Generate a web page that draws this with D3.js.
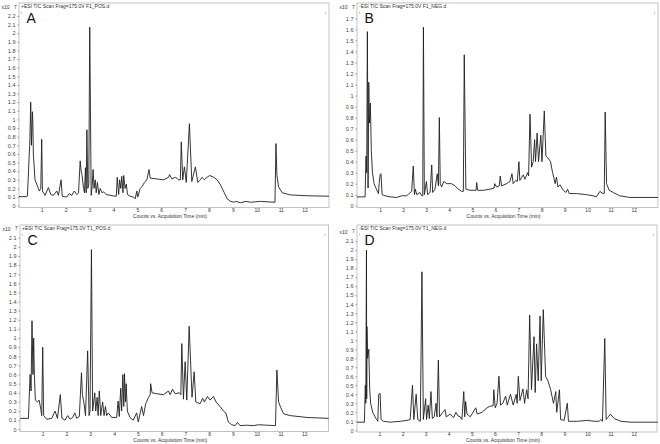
<!DOCTYPE html>
<meta charset="utf-8">
<style>
    body {
        margin: 0;
        background: #fff;
        font-family: "Liberation Sans", Arial, sans-serif;
    }

    .box {
        fill: none;
        stroke: #b4b4b4;
        stroke-width: 0.8px;
    }

    .trace {
        fill: none;
        stroke: #1e1e1e;
        stroke-width: 0.9px;
        stroke-linejoin: round;
    }

    .tick-label {
        font-size: 5.5px;
        fill: #444;
    }

    .small-label {
        font-size: 5px;
        fill: #333;
    }
</style>

<body>
    <script src="https://cdn.jsdelivr.net/npm/d3@7"></script>

    <script>

        // retention time (min) and TIC counts (x10^7)
        var timeA = [0.05, 0.37, 0.40, 0.44, 0.48, 0.50, 0.54, 0.57, 0.61, 0.63, 0.65, 0.72, 0.86, 0.90, 0.96, 1.00, 1.03, 1.14, 1.28, 1.38,
            1.49, 1.63, 1.70, 1.81, 1.86, 2.05, 2.15, 2.26, 2.36, 2.47, 2.54, 2.61, 2.65, 2.69, 2.75, 2.79, 2.83, 2.86, 2.89, 2.93,
            2.97, 3.01, 3.07, 3.11, 3.15, 3.19, 3.24, 3.28, 3.33, 3.39, 3.45, 3.52, 3.59, 3.70, 3.87, 4.07, 4.12, 4.16, 4.22, 4.26,
            4.31, 4.35, 4.40, 4.43, 4.49, 4.54, 4.59, 4.70, 4.84, 4.91, 4.98, 5.02, 5.12, 5.19, 5.30, 5.40, 5.49, 5.54, 5.82, 6.10,
            6.31, 6.35, 6.45, 6.59, 6.73, 6.80, 6.84, 6.90, 6.97, 7.05, 7.18, 7.28, 7.43, 7.53, 7.64, 7.71, 7.81, 7.92, 8.03, 8.20,
            8.34, 8.48, 8.64, 8.76, 8.90, 9.04, 9.11, 9.32, 9.55, 9.74, 9.94, 10.15, 10.43, 10.76, 10.80, 10.84, 10.91, 11.06, 11.41, 12.11,
            13.02];
        var countsA = [0.105, 0.105, 0.11, 0.34, 0.61, 0.70, 1.20, 0.70, 1.09, 0.95, 0.60, 0.30, 0.20, 0.17, 0.20, 0.77, 0.17, 0.12, 0.21, 0.13,
            0.12, 0.17, 0.12, 0.30, 0.11, 0.10, 0.14, 0.12, 0.17, 0.13, 0.15, 0.52, 0.40, 0.35, 0.20, 0.15, 0.44, 0.15, 0.88, 0.20,
            0.25, 2.07, 0.12, 0.22, 0.42, 0.20, 0.30, 0.15, 0.27, 0.13, 0.20, 0.15, 0.16, 0.13, 0.12, 0.11, 0.11, 0.33, 0.13, 0.30,
            0.20, 0.34, 0.15, 0.35, 0.20, 0.25, 0.13, 0.11, 0.10, 0.08, 0.17, 0.10, 0.20, 0.22, 0.27, 0.30, 0.42, 0.32, 0.31, 0.30,
            0.33, 0.36, 0.31, 0.33, 0.30, 0.30, 0.74, 0.30, 0.45, 0.27, 0.95, 0.28, 0.45, 0.27, 0.30, 0.33, 0.30, 0.33, 0.35, 0.33,
            0.30, 0.24, 0.15, 0.08, 0.05, 0.04, 0.05, 0.035, 0.05, 0.04, 0.045, 0.05, 0.045, 0.04, 0.72, 0.35, 0.22, 0.15, 0.125, 0.115,
            0.11];

        var timeB = [0.00, 0.35, 0.39, 0.42, 0.45, 0.48, 0.51, 0.54, 0.58, 0.62, 0.67, 0.74, 0.86, 0.93, 0.96, 1.00, 1.04, 1.09, 1.22, 1.43,
            1.72, 1.94, 2.15, 2.37, 2.44, 2.49, 2.53, 2.59, 2.73, 2.80, 2.85, 2.88, 2.92, 3.01, 3.06, 3.17, 3.24, 3.28, 3.38, 3.48,
            3.53, 3.57, 3.61, 3.67, 3.76, 3.89, 4.10, 4.25, 4.39, 4.54, 4.61, 4.65, 4.72, 4.90, 5.16, 5.19, 5.23, 5.48, 5.76, 5.94,
            5.97, 6.05, 6.17, 6.21, 6.27, 6.49, 6.63, 6.72, 6.77, 6.89, 6.95, 7.02, 7.06, 7.21, 7.28, 7.40, 7.44, 7.50, 7.57, 7.64,
            7.70, 7.74, 7.81, 7.87, 7.97, 8.02, 8.12, 8.19, 8.29, 8.39, 8.48, 8.54, 8.59, 8.65, 8.71, 8.80, 8.94, 9.06, 9.13, 9.20,
            9.52, 9.95, 10.24, 10.38, 10.53, 10.67, 10.72, 10.76, 10.82, 10.93, 11.11, 11.39, 11.83, 13.05];
        var countsB = [0.08, 0.08, 0.45, 0.30, 1.58, 0.16, 1.12, 0.75, 0.93, 0.50, 0.30, 0.20, 0.14, 0.11, 0.20, 0.28, 0.29, 0.10, 0.09, 0.08,
            0.075, 0.09, 0.09, 0.13, 0.36, 0.10, 0.15, 0.10, 0.12, 0.09, 0.09, 1.62, 0.10, 0.22, 0.10, 0.12, 0.37, 0.12, 0.15, 0.29,
            0.18, 0.80, 0.20, 0.17, 0.22, 0.20, 0.20, 0.18, 0.15, 0.13, 0.13, 1.37, 0.15, 0.14, 0.14, 0.21, 0.14, 0.14, 0.15, 0.16,
            0.20, 0.17, 0.18, 0.27, 0.18, 0.20, 0.22, 0.29, 0.20, 0.23, 0.22, 0.40, 0.23, 0.28, 0.24, 0.30, 0.27, 0.83, 0.35, 0.40,
            0.60, 0.40, 0.66, 0.40, 0.64, 0.40, 0.86, 0.45, 0.43, 0.40, 0.30, 0.25, 0.20, 0.26, 0.17, 0.19, 0.14, 0.12, 0.15, 0.11,
            0.11, 0.10, 0.09, 0.08, 0.13, 0.11, 0.11, 0.85, 0.20, 0.14, 0.12, 0.09, 0.075, 0.075];

        var timeC = [0.05, 0.40, 0.47, 0.51, 0.55, 0.59, 0.62, 0.65, 0.69, 0.78, 0.85, 0.92, 0.96, 1.00, 1.04, 1.17, 1.38, 1.52, 1.62, 1.74,
            1.81, 1.94, 2.05, 2.15, 2.26, 2.35, 2.43, 2.54, 2.63, 2.67, 2.74, 2.80, 2.89, 2.95, 2.99, 3.05, 3.10, 3.19, 3.23, 3.29,
            3.33, 3.38, 3.44, 3.52, 3.58, 3.64, 3.69, 3.76, 3.90, 4.11, 4.17, 4.22, 4.28, 4.32, 4.37, 4.41, 4.44, 4.48, 4.51, 4.56,
            4.67, 4.81, 4.95, 5.02, 5.16, 5.24, 5.33, 5.45, 5.52, 5.54, 5.60, 5.80, 6.08, 6.29, 6.36, 6.46, 6.57, 6.75, 6.81, 6.85,
            6.92, 6.99, 7.06, 7.16, 7.28, 7.37, 7.44, 7.62, 7.73, 7.80, 7.93, 8.04, 8.18, 8.29, 8.46, 8.60, 8.70, 8.81, 8.95, 9.09,
            9.19, 9.30, 9.58, 9.86, 10.07, 10.42, 10.79, 10.85, 10.92, 11.01, 11.13, 11.41, 12.11, 13.02];
        var countsC = [0.12, 0.12, 0.60, 0.42, 1.19, 0.60, 1.00, 0.60, 0.32, 0.30, 0.32, 0.22, 0.15, 0.90, 0.15, 0.11, 0.12, 0.20, 0.12, 0.38,
            0.12, 0.10, 0.15, 0.11, 0.13, 0.18, 0.12, 0.14, 0.62, 0.38, 0.28, 0.15, 0.86, 0.15, 0.20, 1.97, 0.20, 0.40, 0.20, 0.35,
            0.15, 0.42, 0.15, 0.30, 0.15, 0.25, 0.15, 0.18, 0.13, 0.13, 0.31, 0.14, 0.45, 0.20, 0.60, 0.25, 0.61, 0.30, 0.50, 0.20,
            0.13, 0.10, 0.18, 0.08, 0.25, 0.15, 0.28, 0.35, 0.38, 0.50, 0.40, 0.39, 0.38, 0.42, 0.38, 0.44, 0.39, 0.40, 0.38, 0.94,
            0.33, 0.74, 0.32, 1.13, 0.35, 0.63, 0.30, 0.28, 0.34, 0.30, 0.36, 0.32, 0.36, 0.30, 0.25, 0.20, 0.18, 0.08, 0.05, 0.04,
            0.075, 0.04, 0.045, 0.04, 0.05, 0.045, 0.04, 0.65, 0.30, 0.24, 0.17, 0.15, 0.13, 0.12];

        var timeD = [0.03, 0.35, 0.39, 0.41, 0.44, 0.45, 0.46, 0.49, 0.54, 0.58, 0.62, 0.71, 0.81, 0.88, 0.93, 0.97, 1.03, 1.07, 1.17, 1.46,
            1.90, 2.19, 2.33, 2.43, 2.49, 2.59, 2.66, 2.77, 2.84, 2.90, 3.00, 3.04, 3.11, 3.16, 3.23, 3.29, 3.37, 3.45, 3.49, 3.55,
            3.60, 3.74, 3.84, 3.89, 4.07, 4.21, 4.31, 4.40, 4.50, 4.57, 4.65, 4.69, 4.73, 4.79, 4.93, 5.17, 5.23, 5.44, 5.66, 5.80,
            5.92, 5.95, 6.01, 6.09, 6.17, 6.24, 6.34, 6.46, 6.53, 6.67, 6.79, 6.92, 6.96, 7.01, 7.08, 7.21, 7.28, 7.37, 7.43, 7.50,
            7.58, 7.69, 7.74, 7.80, 7.87, 7.95, 8.00, 8.09, 8.19, 8.29, 8.41, 8.53, 8.63, 8.67, 8.79, 8.84, 8.99, 9.13, 9.18, 9.57,
            10.00, 10.29, 10.51, 10.58, 10.65, 10.75, 10.81, 10.91, 10.99, 11.16, 11.45, 11.88, 13.04];
        var countsD = [0.09, 0.09, 0.50, 0.30, 2.00, 0.35, 1.15, 0.80, 0.90, 0.45, 0.30, 0.20, 0.15, 0.12, 0.10, 0.40, 0.41, 0.12, 0.10, 0.09,
            0.10, 0.11, 0.12, 0.50, 0.12, 0.40, 0.12, 0.10, 1.76, 0.12, 0.35, 0.12, 0.28, 0.13, 0.43, 0.13, 0.15, 0.30, 0.15, 0.78,
            0.15, 0.20, 0.23, 0.15, 0.18, 0.14, 0.20, 0.16, 0.15, 0.12, 0.43, 0.15, 0.32, 0.18, 0.15, 0.25, 0.18, 0.20, 0.25, 0.27,
            0.27, 0.45, 0.25, 0.30, 0.60, 0.28, 0.30, 0.38, 0.28, 0.40, 0.28, 0.40, 0.30, 0.60, 0.33, 0.46, 0.30, 0.45, 0.35, 1.28,
            0.45, 1.04, 0.42, 0.96, 0.55, 1.27, 0.55, 1.34, 0.60, 0.55, 0.45, 0.30, 0.43, 0.20, 0.45, 0.12, 0.11, 0.30, 0.10, 0.10,
            0.11, 0.10, 0.10, 0.12, 0.10, 1.02, 0.12, 0.15, 0.18, 0.13, 0.10, 0.09, 0.09];

        var xTicks = [1, 2, 3, 4, 5, 6, 7, 8, 9, 10, 11, 12];
        var xTitle = "Counts vs. Acquisition Time (min)";

        var panels = [
            { letter: "A", title: "+ESI TIC Scan Frag=175.0V F1_POS.d", time: timeA, counts: countsA, topTick: 2.2 },
            { letter: "B", title: "-ESI TIC Scan Frag=175.0V F1_NEG.d", time: timeB, counts: countsB, topTick: 1.7 },
            { letter: "C", title: "+ESI TIC Scan Frag=175.0V T1_POS.d", time: timeC, counts: countsC, topTick: 2.1 },
            { letter: "D", title: "-ESI TIC Scan Frag=175.0V T1_NEG.d", time: timeD, counts: countsD, topTick: 2.1 }
        ];

        // plot box of each panel: left, top, right, bottom, y of zero, x domain, y value at box top
        var frames = [
            { l: 19, t: 3, r: 329, b: 207.5, zero: 205.7, xd: [0.05, 13.02], ytop: 2.35 },
            { l: 357, t: 3, r: 658, b: 207.5, zero: 205.7, xd: [0.0, 13.05], ytop: 1.84 },
            { l: 20, t: 225, r: 328.5, b: 431.5, zero: 429.3, xd: [0.045, 13.02], ytop: 2.24 },
            { l: 357, t: 225, r: 657, b: 432, zero: 430.3, xd: [0.03, 13.01], ytop: 2.28 }
        ];

        var svg = d3.select("body").append("svg")
            .attr("width", 660)
            .attr("height", 444);

        var fmt = function (d) { return d === 0 ? "0" : String(Math.round(d * 10) / 10); };

        panels.forEach(function (p, i) {
            var f = frames[i];
            var g = svg.append("g");

            var x = d3.scaleLinear().domain(f.xd).range([f.l, f.r]);
            var y = d3.scaleLinear().domain([0, f.ytop]).range([f.zero, f.t]);

            g.append("rect").attr("class", "box")
                .attr("x", f.l).attr("y", f.t)
                .attr("width", f.r - f.l).attr("height", f.b - f.t);

            // y ticks
            var yTicks = d3.range(0, Math.round(p.topTick * 10) + 1).map(function (k) { return k / 10; });
            var yAxis = g.append("g")
                .attr("transform", "translate(" + f.l + ",0)")
                .call(d3.axisLeft(y).tickValues(yTicks).tickFormat(fmt).tickSize(1.5).tickPadding(2));
            yAxis.select(".domain").remove();
            yAxis.selectAll("line").attr("stroke", "#999");
            yAxis.selectAll("text").attr("class", "tick-label").attr("font-family", null).attr("font-size", null);

            // exponent label where the next tick would be
            var ey = y(p.topTick + 0.1) + 2;
            g.append("text").attr("class", "small-label")
                .attr("x", f.l - 17.5).attr("y", ey)
                .text("x10");
            g.append("text").attr("class", "small-label")
                .attr("x", f.l - 5).attr("y", ey - 0.8)
                .attr("font-size", "4px")
                .text("7");

            // x ticks
            var xAxis = g.append("g")
                .attr("transform", "translate(0," + f.b + ")")
                .call(d3.axisBottom(x).tickValues(xTicks).tickFormat(d3.format("d")).tickSize(0).tickPadding(0));
            xAxis.select(".domain").remove();
            xAxis.selectAll("text").attr("class", "small-label").attr("font-family", null).attr("font-size", null)
                .attr("dy", null).attr("y", 4.3);

            g.append("text").attr("class", "small-label")
                .attr("x", (f.l + f.r) / 2 - 4).attr("y", f.b + 10)
                .attr("text-anchor", "middle")
                .text(xTitle);

            // scan title
            g.append("text").attr("class", "small-label")
                .attr("x", f.l + 2).attr("y", f.t + 4.5)
                .text(p.title);

            // small marker bars under the title
            [f.l + 2.5, f.r - 3.5].forEach(function (mx) {
                g.append("line")
                    .attr("x1", mx).attr("x2", mx)
                    .attr("y1", f.t + 8.5).attr("y2", f.t + 11)
                    .attr("stroke", "#aaa").attr("stroke-width", 0.6);
            });

            // panel letter
            g.append("text")
                .attr("x", f.l + 7.5).attr("y", f.t + 20)
                .attr("font-size", "14px")
                .attr("fill", "#111")
                .text(p.letter);

            var line = d3.line()
                .x(function (d) { return x(d[0]); })
                .y(function (d) { return y(d[1]); });

            g.append("path").attr("class", "trace")
                .attr("d", line(d3.zip(p.time, p.counts)));
        });

    </script>

</body>

</html>
